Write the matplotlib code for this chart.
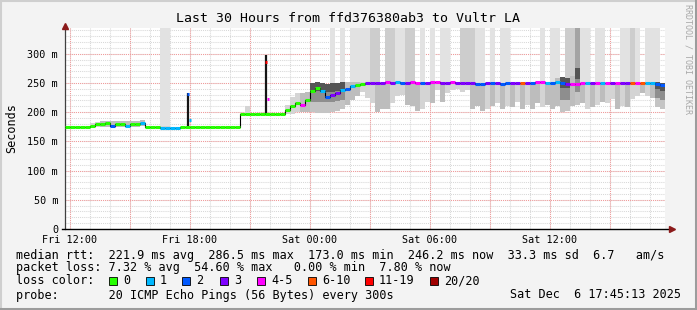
import numpy as np
import matplotlib
matplotlib.use("Agg")
import matplotlib.pyplot as plt
from matplotlib.patches import Rectangle
from matplotlib.lines import Line2D

# 15 minute bins from Fri 11:45 to Sat 17:45 (120 bins)
median_ms = [175, 175, 175, 175, 175, 177, 179, 180, 181, 177,
             180, 180, 177, 180, 180, 182, 175, 175, 175, 173,
             173, 173, 173, 175, 175, 175, 175, 175, 175, 175,
             175, 175, 175, 175, 175, 196, 197, 197, 197, 197,
             197, 196, 196, 196, 203, 210, 216, 213, 220, 237,
             241, 236, 226, 229, 232, 238, 240, 244, 247, 249,
             250, 250, 250, 250, 251, 250, 251, 250, 250, 251,
             250, 250, 250, 251, 251, 250, 250, 251, 250, 250,
             250, 250, 249, 249, 250, 250, 250, 249, 250, 250,
             250, 250, 250, 250, 251, 251, 250, 250, 251, 250,
             249, 248, 249, 250, 250, 250, 250, 250, 250, 250,
             250, 250, 250, 250, 250, 250, 250, 250, 249, 246]

# index into loss_colors
loss_idx = [0, 0, 0, 0, 0, 0, 0, 0, 0, 2,
            0, 0, 1, 0, 0, 1, 0, 0, 0, 1,
            1, 1, 1, 0, 0, 0, 0, 0, 0, 0,
            0, 0, 0, 0, 0, 0, 0, 0, 0, 0,
            0, 0, 0, 0, 0, 0, 0, 4, 0, 0,
            0, 1, 2, 3, 3, 1, 2, 1, 0, 0,
            3, 3, 3, 3, 4, 3, 1, 2, 3, 4,
            4, 2, 3, 4, 4, 3, 3, 4, 3, 3,
            3, 3, 2, 2, 3, 2, 3, 2, 2, 3,
            3, 5, 3, 2, 4, 4, 1, 2, 1, 2,
            3, 4, 4, 4, 1, 3, 4, 1, 4, 3,
            4, 3, 3, 5, 4, 5, 1, 1, 2, 2]

smoke_lo = [175, 175, 175, 175, 175, 174, 174, 175, 175, 174,
            175, 175, 174, 175, 175, 176, 175, 175, 175, 172,
            172, 172, 172, 175, 175, 175, 175, 175, 175, 175,
            175, 175, 175, 175, 175, 196, 197, 197, 197, 197,
            197, 196, 196, 196, 197, 197, 200, 200, 200, 200,
            199, 199, 199, 200, 202, 205, 212, 220, 228, 235,
            225, 215, 200, 205, 205, 215, 228, 230, 212, 210,
            202, 205, 218, 215, 238, 218, 232, 238, 240, 235,
            238, 205, 210, 202, 205, 210, 215, 205, 210, 208,
            218, 205, 212, 205, 215, 208, 212, 205, 210, 200,
            202, 210, 212, 215, 205, 208, 212, 218, 215, 222,
            205, 210, 208, 222, 228, 232, 228, 225, 208, 205]

smoke_hi = [175, 175, 175, 175, 175, 181, 183, 184, 185, 184,
            184, 185, 184, 185, 184, 186, 175, 175, 175, 176,
            176, 174, 174, 175, 175, 175, 175, 175, 175, 175,
            175, 175, 175, 175, 175, 196, 210, 197, 197, 197,
            197, 196, 196, 196, 212, 226, 233, 232, 235, 250,
            252, 250, 249, 250, 250, 251, 251, 251, 251, 251,
            250, 250, 250, 250, 251, 250, 251, 250, 250, 251,
            250, 250, 250, 251, 251, 250, 250, 251, 250, 250,
            250, 250, 249, 249, 250, 250, 250, 249, 250, 250,
            250, 250, 250, 250, 251, 251, 250, 250, 258, 260,
            258, 262, 276, 250, 250, 250, 250, 250, 250, 250,
            250, 250, 250, 250, 250, 250, 250, 250, 252, 250]

# 0 none, 1 light, 2 mid, 3 dark
smoke_shade = [0, 0, 0, 0, 0, 1, 1, 2, 2, 2,
               2, 2, 2, 2, 2, 2, 0, 0, 0, 1,
               1, 1, 1, 0, 0, 0, 0, 0, 0, 0,
               0, 0, 0, 0, 0, 0, 1, 0, 0, 0,
               0, 0, 0, 0, 1, 1, 1, 2, 2, 3,
               3, 3, 3, 3, 3, 3, 2, 2, 2, 1,
               1, 1, 2, 2, 2, 1, 1, 1, 2, 2,
               2, 1, 1, 2, 1, 2, 1, 1, 1, 1,
               1, 2, 2, 2, 1, 2, 1, 2, 1, 2,
               1, 2, 1, 2, 2, 1, 2, 2, 2, 3,
               3, 2, 3, 2, 1, 2, 1, 2, 1, 1,
               2, 1, 2, 1, 1, 2, 1, 2, 3, 3]

# lost-ping bars from median up to the top, 0 none, 1 light, 2 mid, 3 dark
loss_bar = [0, 0, 0, 0, 0, 0, 0, 0, 0, 0,
            0, 0, 0, 0, 0, 0, 0, 0, 0, 1,
            1, 0, 0, 0, 0, 0, 0, 0, 0, 0,
            0, 0, 0, 0, 0, 0, 0, 0, 0, 0,
            0, 0, 0, 0, 0, 0, 0, 0, 0, 0,
            0, 0, 0, 1, 0, 1, 0, 1, 1, 1,
            1, 2, 2, 0, 2, 2, 1, 1, 2, 2,
            0, 1, 0, 1, 0, 1, 1, 0, 0, 2,
            2, 2, 1, 1, 0, 1, 0, 1, 1, 0,
            0, 0, 0, 0, 0, 1, 0, 1, 1, 0,
            2, 2, 3, 1, 1, 0, 1, 1, 0, 0,
            0, 1, 1, 2, 1, 0, 1, 1, 1, 0]

# short single-sample spikes (hours since Fri 11:45)
spike_t = [6.15, 10.03]
spike_lo = [175, 197]
spike_hi = [233, 298]
mark_t = [6.15, 6.25, 10.03, 10.13]
mark_v = [231, 186, 286, 222]
mark_loss = [2, 1, 6, 4]

loss_colors = ['#26ff00', '#00b8ff', '#0059ff', '#7e00ff', '#ff00ff', '#ff5500', '#ff0000', '#a00000']
loss_labels = ['0', '1', '2', '3', '4-5', '6-10', '11-19', '20/20']

tick_hours = [0.25, 6.25, 12.25, 18.25, 24.25]
tick_names = ['Fri 12:00', 'Fri 18:00', 'Sat 00:00', 'Sat 06:00', 'Sat 12:00']
y_ticks = [0, 50, 100, 150, 200, 250, 300]
y_names = ['0', '50 m', '100 m', '150 m', '200 m', '250 m', '300 m']

stats_rtt = "median rtt:  221.9 ms avg  286.5 ms max  173.0 ms min  246.2 ms now  33.3 ms sd  6.7   am/s"
stats_loss = "packet loss: 7.32 % avg  54.60 % max   0.00 % min  7.80 % now"
probe_txt = "probe:       20 ICMP Echo Pings (56 Bytes) every 300s"
stamp_txt = "Sat Dec  6 17:45:13 2025"

plt.rcParams['font.family'] = ['DejaVu Sans Mono']
W, H = 697, 310
y_top = 344
bin_w = 0.25

fig = plt.figure(figsize=(W / 100, H / 100), dpi=100, facecolor='#f3f3f3')
ax = fig.add_axes([65 / W, (H - 229) / H, 600 / W, 201 / H])
ax.set_facecolor('white')
ax.set_xlim(0, 30)
ax.set_ylim(0, y_top)

# grid
for h in np.arange(0.25, 30, 1.0):
    ax.axvline(h, color='#d8d8d8', lw=0.75, ls=(0, (1, 1)), zorder=0)
for v in range(10, 345, 10):
    ax.axhline(v, color='#d8d8d8', lw=0.75, ls=(0, (1, 1)), zorder=0)
for h in np.arange(0.25, 30, 3.0):
    ax.axvline(h, color='#f29a9a', lw=0.75, ls=(0, (1, 1)), zorder=0.5)
for v in range(50, 345, 50):
    ax.axhline(v, color='#f29a9a', lw=0.75, ls=(0, (1, 1)), zorder=0.5)

med = np.array(median_ms, dtype=float)
lo = np.array(smoke_lo, dtype=float)
hi = np.array(smoke_hi, dtype=float)
t = np.arange(len(med)) * bin_w

bar_cols = {1: '#e2e2e2', 2: '#cdcdcd', 3: '#a4a4a4'}
smoke_cols = {1: '#d4d4d4', 2: '#bdbdbd', 3: '#c4c4c4'}

for i in range(len(med)):
    if loss_bar[i]:
        ax.bar(t[i], y_top - med[i], bottom=med[i], width=bin_w, align='edge',
               color=bar_cols[loss_bar[i]], lw=0, zorder=1)
for i in range(len(med)):
    s = smoke_shade[i]
    if s and hi[i] > lo[i]:
        ax.bar(t[i], hi[i] - lo[i], bottom=lo[i], width=bin_w, align='edge',
               color=smoke_cols[s], lw=0, zorder=2)
        if s == 3:
            # darker core of the dense smoke
            for frac, col in [(0.35, '#8e8e8e'), (0.7, '#555555')]:
                core = lo[i] + frac * (hi[i] - lo[i])
                ax.bar(t[i], hi[i] - core, bottom=core, width=bin_w, align='edge',
                       color=col, lw=0, zorder=2)

# median
ax.step(np.append(t, 30), np.append(med, med[-1]), where='post', color='black', lw=0.8, zorder=3)
ax.vlines(spike_t, spike_lo, spike_hi, color='#151515', lw=1.6, zorder=3)
ax.hlines(med, t, t + bin_w, colors=[loss_colors[k] for k in loss_idx], lw=2.2, zorder=4)
mt = np.array(mark_t)
ax.hlines(mark_v, mt - 0.05, mt + 0.05, colors=[loss_colors[k] for k in mark_loss], lw=2.2, zorder=5)

# axes
for s in ['top', 'right', 'bottom']:
    ax.spines[s].set_visible(False)
ax.spines['left'].set_color('#404040')
ax.spines['left'].set_linewidth(0.9)
ax.plot([-0.15, 30.2], [0, 0], color='black', lw=1, clip_on=False, zorder=6)
ax.plot([30.35], [0], marker='>', color='#8b1a1a', ms=4, clip_on=False, zorder=7)
ax.plot([0], [y_top + 3], marker='^', color='#8b1a1a', ms=4, clip_on=False, zorder=7)

ax.set_xticks(tick_hours)
ax.set_xticklabels(tick_names, fontsize=7.3)
ax.set_yticks(y_ticks)
ax.set_yticklabels(y_names, fontsize=7.3)
ax.tick_params(axis='x', length=0, pad=4.5)
ax.tick_params(axis='y', length=0, pad=5)

def ftext(x, y, s, **kw):
    fig.text(x / W, 1 - y / H, s, **kw)

ftext(348, 19, "Last 30 Hours from ffd376380ab3 to Vultr LA", ha='center', va='center', fontsize=9.5)
ftext(12, 128, "Seconds", ha='center', va='center', rotation=90, fontsize=8.5)
ftext(688, 4, "RRDTOOL / TOBI OETIKER", ha='center', va='top', rotation=270, fontsize=6, color='#a8a8a8')

ftext(16, 255, stats_rtt, va='center', fontsize=8.5)
ftext(16, 268, stats_loss, va='center', fontsize=8.5)
ftext(16, 281, "loss color:", va='center', fontsize=8.5)
box_x = [109, 146, 182, 220, 257, 308, 365, 430]
for bx, col, lab in zip(box_x, loss_colors, loss_labels):
    fig.add_artist(Rectangle((bx / W, (H - 285) / H), 8 / W, 8 / H, transform=fig.transFigure,
                             facecolor=col, edgecolor='black', lw=0.6))
    ftext(bx + 14, 281, lab, va='center', fontsize=8.5)
ftext(16, 295, probe_txt, va='center', fontsize=8.5)
ftext(681, 295, stamp_txt, ha='right', va='center', fontsize=8.5)

# frame
fig.add_artist(Line2D([0, 1], [1 - 1 / H, 1 - 1 / H], color='#cfcfcf', lw=1.5, transform=fig.transFigure))
fig.add_artist(Line2D([1 / W, 1 / W], [0, 1], color='#cfcfcf', lw=1.5, transform=fig.transFigure))
fig.add_artist(Line2D([1 - 1.5 / W, 1 - 1.5 / W], [0, 1], color='#9c9c9c', lw=2.2, transform=fig.transFigure))
fig.add_artist(Line2D([0, 1], [1.5 / H, 1.5 / H], color='#9c9c9c', lw=2.2, transform=fig.transFigure))

fig.savefig("out.png", dpi=100, facecolor=fig.get_facecolor())
